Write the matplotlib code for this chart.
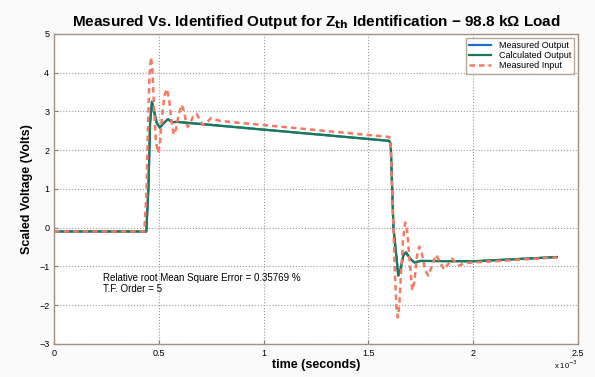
import matplotlib
matplotlib.use("Agg")
import matplotlib.pyplot as plt
from matplotlib.ticker import FuncFormatter

plt.rcParams['font.family'] = ['Liberation Sans', 'DejaVu Sans']

# time in ms (scaled to seconds below)
t_in = [0, 0.43, 0.44, 0.448, 0.455, 0.462, 0.469, 0.476, 0.485, 0.495, 0.504,
        0.514, 0.526, 0.538, 0.549, 0.56, 0.571, 0.582, 0.596, 0.609, 0.62, 0.63,
        0.638, 0.648, 0.662, 0.68, 0.693, 0.71, 0.73, 0.75, 0.775, 0.8, 1.6,
        1.607, 1.617, 1.627, 1.635, 1.641, 1.648, 1.656, 1.666, 1.676, 1.686,
        1.698, 1.71, 1.72, 1.732, 1.743, 1.755, 1.772, 1.786, 1.8, 1.824, 1.843,
        1.862, 1.88, 1.9, 1.917, 1.933, 1.96, 2.0, 2.4]
v_in = [-0.1, -0.1, 0.8, 2.6, 3.9, 4.4, 4.1, 3.2, 2.3, 1.93, 2.1,
        2.8, 3.4, 3.58, 3.3, 2.75, 2.4, 2.55, 2.95, 3.17, 3.0, 2.72,
        2.6, 2.68, 2.85, 2.94, 2.8, 2.65, 2.72, 2.83, 2.78, 2.75, 2.34,
        2.1, 0.5, -1.2, -2.1, -2.32, -2.0, -1.2, -0.3, 0.13, -0.1,
        -0.9, -1.62, -1.4, -0.75, -0.49, -0.65, -1.1, -1.24, -1.05, -0.7, -0.9,
        -1.08, -0.95, -0.8, -0.9, -0.98, -0.92, -0.9, -0.77]

t_out = [0, 0.44, 0.45, 0.458, 0.467, 0.475, 0.49, 0.505, 0.52, 0.543, 0.565, 0.585,
         1.6, 1.607, 1.62, 1.635, 1.643, 1.655, 1.668, 1.68, 1.7, 1.72, 1.75, 2.0, 2.4]
v_calc = [-0.1, -0.1, 1.0, 2.7, 3.25, 3.05, 2.7, 2.58, 2.68, 2.8, 2.72, 2.73,
          2.24, 2.15, 0.0, -0.8, -1.24, -1.05, -0.7, -0.64, -0.8, -0.9, -0.86, -0.87, -0.76]
v_meas = [-0.1, -0.1, 1.0, 2.7, 3.25, 3.05, 2.7, 2.58, 2.68, 2.8, 2.72, 2.73,
          2.24, 2.15, 0.0, -0.8, -1.24, -1.05, -0.7, -0.64, -0.8, -0.9, -0.86, -0.87, -0.76]

xticks = [0, 0.5, 1, 1.5, 2, 2.5]
yticks = [-3, -2, -1, 0, 1, 2, 3, 4, 5]

fig = plt.figure(figsize=(5.95, 3.77), dpi=100, facecolor='#fafafa')
ax = fig.add_axes([0.091, 0.088, 0.88, 0.822])

ax.plot([x * 1e-3 for x in t_out], v_meas, color='#1f6fc8', lw=1.6, label='Measured Output')
ax.plot([x * 1e-3 for x in t_out], v_calc, color='#1a7a58', lw=1.6, label='Calculated Output')
ax.plot([x * 1e-3 for x in t_in], v_in, color='#f47a62', lw=1.8, ls=(0, (2.2, 1.6)), label='Measured Input')

ax.set_xlim(0, 2.5e-3)
ax.set_ylim(-3, 5)
ax.set_xticks([x * 1e-3 for x in xticks])
ax.set_yticks(yticks)
ax.xaxis.set_major_formatter(FuncFormatter(lambda v, p: '%g' % round(v * 1e3, 3)))
ax.text(1.0, -0.068, 'x 10$^{-3}$', transform=ax.transAxes, fontsize=5.5, ha='right', va='center')

ax.grid(True, ls=':', color='#999999', lw=0.8)
ax.tick_params(direction='in', labelsize=6.5, length=3, color='#8a7a70')
for s in ax.spines.values():
    s.set_color('#a09085')
    s.set_linewidth(1.0)

ax.set_title('Measured Vs. Identified Output for Z$_{\\mathbf{th}}$ Identification \u2212 98.8 k\u03a9 Load',
             fontsize=11, fontweight='bold', pad=6)
ax.set_xlabel('time (seconds)', fontsize=9, fontweight='bold', labelpad=1)
ax.set_ylabel('Scaled Voltage (Volts)', fontsize=9, fontweight='bold')

ax.text(0.235e-3, -1.45, 'Relative root Mean Square Error = 0.35769 %\nT.F. Order = 5',
        fontsize=7, va='center', linespacing=1.1)

leg = ax.legend(loc='upper right', fontsize=6.5, frameon=True, fancybox=False,
                borderaxespad=0.4, handlelength=2.5, labelspacing=0.15, borderpad=0.35)
leg.get_frame().set_edgecolor('#a09085')

fig.savefig('out.png', dpi=100, facecolor=fig.get_facecolor())
